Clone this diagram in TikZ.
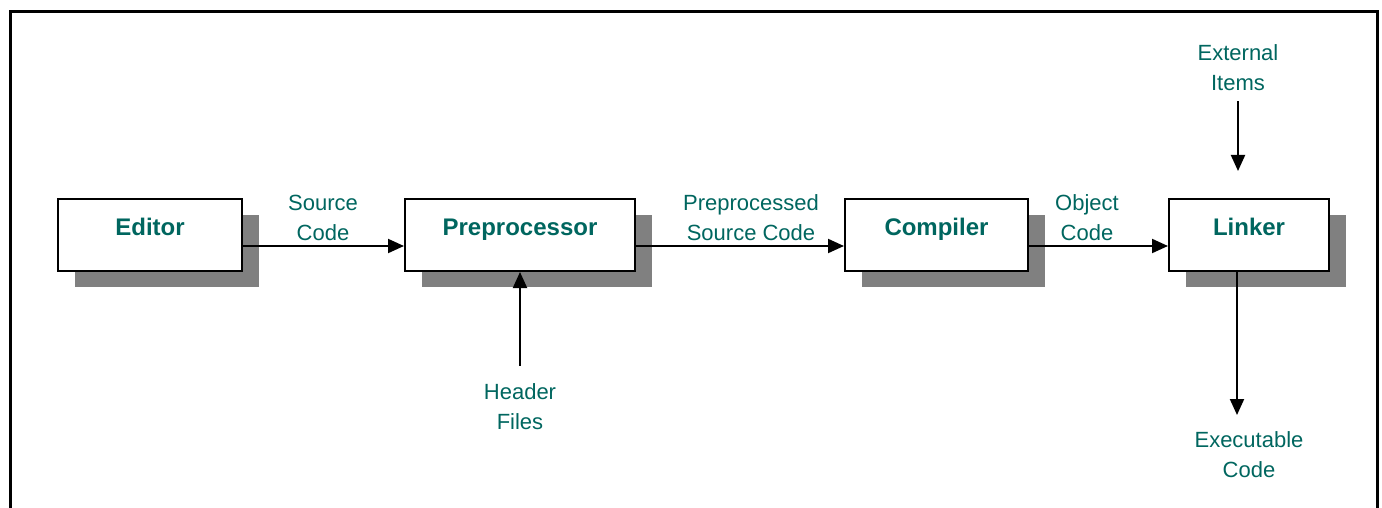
\documentclass[tikz,border=0pt]{standalone}
\usepackage{fontspec}
\setmainfont{Liberation Sans}
\usetikzlibrary{arrows.meta,shadows}

\definecolor{flowteal}{HTML}{00665F}
\definecolor{flowshade}{HTML}{808080}

\begin{document}
\begin{tikzpicture}[
  x=0.5pt,y=-0.5pt,
  font=\fontsize{11}{15}\selectfont,
  stage/.style={draw=black,line width=1pt,fill=white,minimum height=36pt,
                text height=8pt,text depth=8pt,text=flowteal,
                font=\bfseries\fontsize{12}{14}\selectfont,
                general shadow={fill=flowshade,shadow xshift=8.25pt,
                                shadow yshift=-7.75pt}},
  note/.style={text=flowteal,align=center,inner sep=1pt},
  flow/.style={line width=1pt,-{Triangle[length=8pt,width=7pt]}}
]
  \useasboundingbox (0,0) rectangle (1382,508);
  \clip (0,0) rectangle (1382,508);
  % open-bottomed frame
  \draw[line width=1.6pt] (10.5,540) |- (1377.5,11.5) -- (1377.5,540);

  % build stages
  \node[stage,minimum width=92pt] (editor) at (150,235) {Editor};
  \node[stage,minimum width=115pt] (prep) at (520,235) {Preprocessor};
  \node[stage,minimum width=91.5pt] (comp) at (936.5,235) {Compiler};
  \node[stage,minimum width=80pt] (linker) at (1249,235) {Linker};

  % labels on the main line
  \node[note] (srclbl) at (323,218) {Source\\Code};
  \node[note] (prelbl) at (751,218) {Preprocessed\\Source Code};
  \node[note] (objlbl) at (1087,218) {Object\\Code};

  % side inputs and output
  \node[note] (hdr) at (520,407) {Header\\Files};
  \node[note] (ext) at (1238,68) {External\\Items};
  \node[note] (exe) at (1249,455) {Executable\\Code};
  \coordinate (linkin) at (1238,171);
  \coordinate (exeout) at (1237,415);

  \draw[flow] ([yshift=-5.5pt]editor.east) -- ([yshift=-5.5pt]prep.west);
  \draw[flow] ([yshift=-5.5pt]prep.east) -- ([yshift=-5.5pt]comp.west);
  \draw[flow] ([yshift=-5.5pt]comp.east) -- ([yshift=-5.5pt]linker.west);
  \draw[flow,shorten <=8pt] (hdr.north) -- (prep.south);
  \draw[flow,shorten <=4pt] (ext.south) -- (linkin);
  \draw[flow] ([xshift=-6pt]linker.south) -- (exeout);
\end{tikzpicture}
\end{document}
